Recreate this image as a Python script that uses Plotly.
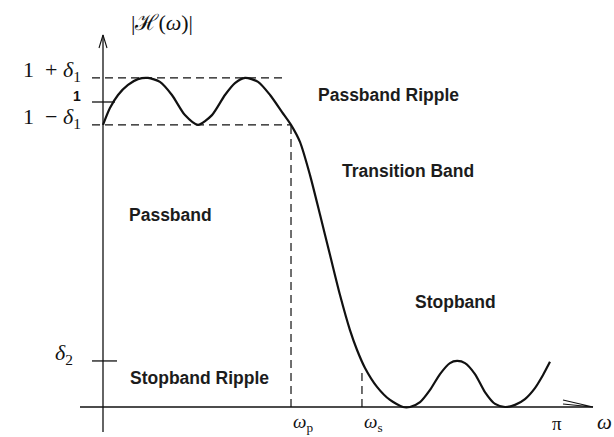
import math
import plotly.graph_objects as go

# ---- data ----
omega = [0.000, 0.048, 0.104, 0.173, 0.242, 0.311, 0.394, 0.477, 0.567, 0.657,
         0.754, 0.844, 0.913, 0.983, 1.073, 1.156, 1.239, 1.301, 1.363, 1.432,
         1.502, 1.571, 1.640, 1.709, 1.758, 1.813, 1.896, 1.986, 2.076, 2.124,
         2.194, 2.263, 2.332, 2.401, 2.450, 2.505, 2.574, 2.643, 2.713, 2.782,
         2.851, 2.920, 2.989, 3.045, 3.093]
magnitude = [0.925, 0.980, 1.023, 1.056, 1.075, 1.079, 1.066, 1.023, 0.957, 0.925,
             0.957, 1.023, 1.062, 1.079, 1.066, 1.023, 0.967, 0.925, 0.869, 0.761,
             0.630, 0.498, 0.367, 0.252, 0.187, 0.128, 0.066, 0.023, 0.000, 0.000,
             0.016, 0.056, 0.108, 0.144, 0.151, 0.144, 0.108, 0.049, 0.010, 0.000,
             0.007, 0.026, 0.062, 0.105, 0.148]

pass_upper = 1.079   # 1 + delta1
pass_nominal = 1.0   # 1
pass_lower = 0.925   # 1 - delta1
stop_delta = 0.151   # delta2
omega_p = 1.301
omega_s = 1.792
omega_end = math.pi

y_tick_values = [pass_upper, pass_nominal, pass_lower, stop_delta]
y_tick_labels = ["1 &nbsp;+ <i>δ</i><sub>1</sub>", "<b>1</b>",
                 "1 &nbsp;− <i>δ</i><sub>1</sub>", "<i>δ</i><sub>2</sub>"]
x_tick_values = [omega_p, omega_s, omega_end]
x_tick_labels = ["<i>ω</i><sub>p</sub>", "<i>ω</i><sub>s</sub>", "π"]

# ---- geometry helpers (pixel -> data scale) ----
W, H = 614, 437
sx = 454 / math.pi          # px per unit omega
sy = 305.0                  # px per unit magnitude
x0px, y0px = 103, 407       # origin pixel
xr = [-x0px / sx, (W - x0px) / sx]
yr = [-(H - y0px) / sy, y0px / sy]

def px(n):
    return n / sx

def py(n):
    return n / sy

fig = go.Figure()

BLACK = "#111111"
SERIF = "Liberation Serif, DejaVu Serif, serif"
SANS = "Liberation Sans, Arial, sans-serif"

# axes lines
y_top = py(372)
x_right = px(490)
fig.add_shape(type="line", xref="x", yref="y", x0=0, x1=0, y0=-py(25), y1=y_top,
              line=dict(color=BLACK, width=1.3))
fig.add_shape(type="line", xref="x", yref="y", x0=-px(23), x1=x_right, y0=0, y1=0,
              line=dict(color=BLACK, width=1.3))
# open arrowheads
fig.add_trace(go.Scatter(x=[-px(4), 0, px(4)], y=[y_top - py(13), y_top, y_top - py(13)],
                         mode="lines", line=dict(color=BLACK, width=1.1), hoverinfo="skip"))
fig.add_trace(go.Scatter(x=[x_right - px(30), x_right, x_right - px(30)], y=[py(7), 0, py(3)],
                         mode="lines", line=dict(color=BLACK, width=1.1), hoverinfo="skip"))

# dashed guide lines
dash = "8px,5px"
fig.add_shape(type="line", xref="x", yref="y", x0=-px(11), x1=omega_p - px(4),
              y0=pass_upper, y1=pass_upper, line=dict(color=BLACK, width=1.2, dash=dash))
fig.add_shape(type="line", xref="x", yref="y", x0=-px(11), x1=omega_p,
              y0=pass_lower, y1=pass_lower, line=dict(color=BLACK, width=1.2, dash=dash))
fig.add_shape(type="line", xref="x", yref="y", x0=omega_p, x1=omega_p,
              y0=0, y1=pass_lower, line=dict(color=BLACK, width=1.2, dash=dash))
fig.add_shape(type="line", xref="x", yref="y", x0=omega_s, x1=omega_s,
              y0=0, y1=py(39), line=dict(color=BLACK, width=1.2, dash=dash))

# solid ticks
fig.add_shape(type="line", xref="x", yref="y", x0=-px(11), x1=px(12),
              y0=pass_nominal, y1=pass_nominal, line=dict(color=BLACK, width=1.3))
fig.add_shape(type="line", xref="x", yref="y", x0=-px(11), x1=px(14),
              y0=stop_delta, y1=stop_delta, line=dict(color=BLACK, width=1.3))

# response curve
fig.add_trace(go.Scatter(x=omega, y=magnitude, mode="lines",
                         line=dict(color=BLACK, width=2.2, shape="spline", smoothing=0.7),
                         hoverinfo="skip"))

# y tick labels
for v, t in zip(y_tick_values, y_tick_labels):
    bold = t.startswith("<b>")
    fig.add_annotation(x=-px(20 if v > 0.5 else 28), y=v, xref="x", yref="y", text=t,
                       showarrow=False, xanchor="right", yanchor="middle",
                       yshift=6 if bold else 7,
                       font=dict(family=SANS if bold else SERIF, size=14 if bold else 22, color=BLACK))

# x tick labels
for v, t in zip(x_tick_values, x_tick_labels):
    fig.add_annotation(x=v, y=0, xref="x", yref="y", text=t, showarrow=False,
                       xanchor="left" if v < 3 else "center", yanchor="middle", yshift=-16,
                       font=dict(family=SERIF, size=19, color=BLACK))

# axis titles
fig.add_annotation(x=px(501), y=0, xref="x", yref="y", text="<i>ω</i>", showarrow=False,
                   xanchor="center", yanchor="middle", yshift=-15,
                   font=dict(family=SERIF, size=21, color=BLACK))
fig.add_annotation(x=px(59), y=py(385), xref="x", yref="y", text="|ℋ(<i>ω</i>)|", showarrow=False,
                   xanchor="center", yanchor="middle",
                   font=dict(family=SERIF, size=22, color=BLACK))

# region labels
labels = [("Passband Ripple", px(213), py(312)),
          ("Transition Band", px(237), py(236)),
          ("Passband", px(24), py(192)),
          ("Stopband", px(310), py(105)),
          ("Stopband Ripple", px(25), py(29))]
for t, x, y in labels:
    fig.add_annotation(x=x, y=y, xref="x", yref="y", text=f"<b>{t}</b>", showarrow=False,
                       xanchor="left", yanchor="middle",
                       font=dict(family=SANS, size=17.5, color="#1c1c1c"))

fig.update_layout(width=W, height=H, margin=dict(l=0, r=0, t=0, b=0),
                  paper_bgcolor="white", plot_bgcolor="white", showlegend=False,
                  xaxis=dict(range=xr, visible=False, fixedrange=True),
                  yaxis=dict(range=yr, visible=False, fixedrange=True))

fig.write_html("out.html", config={"displayModeBar": False},
               post_script="document.body.style.margin='0px';")
